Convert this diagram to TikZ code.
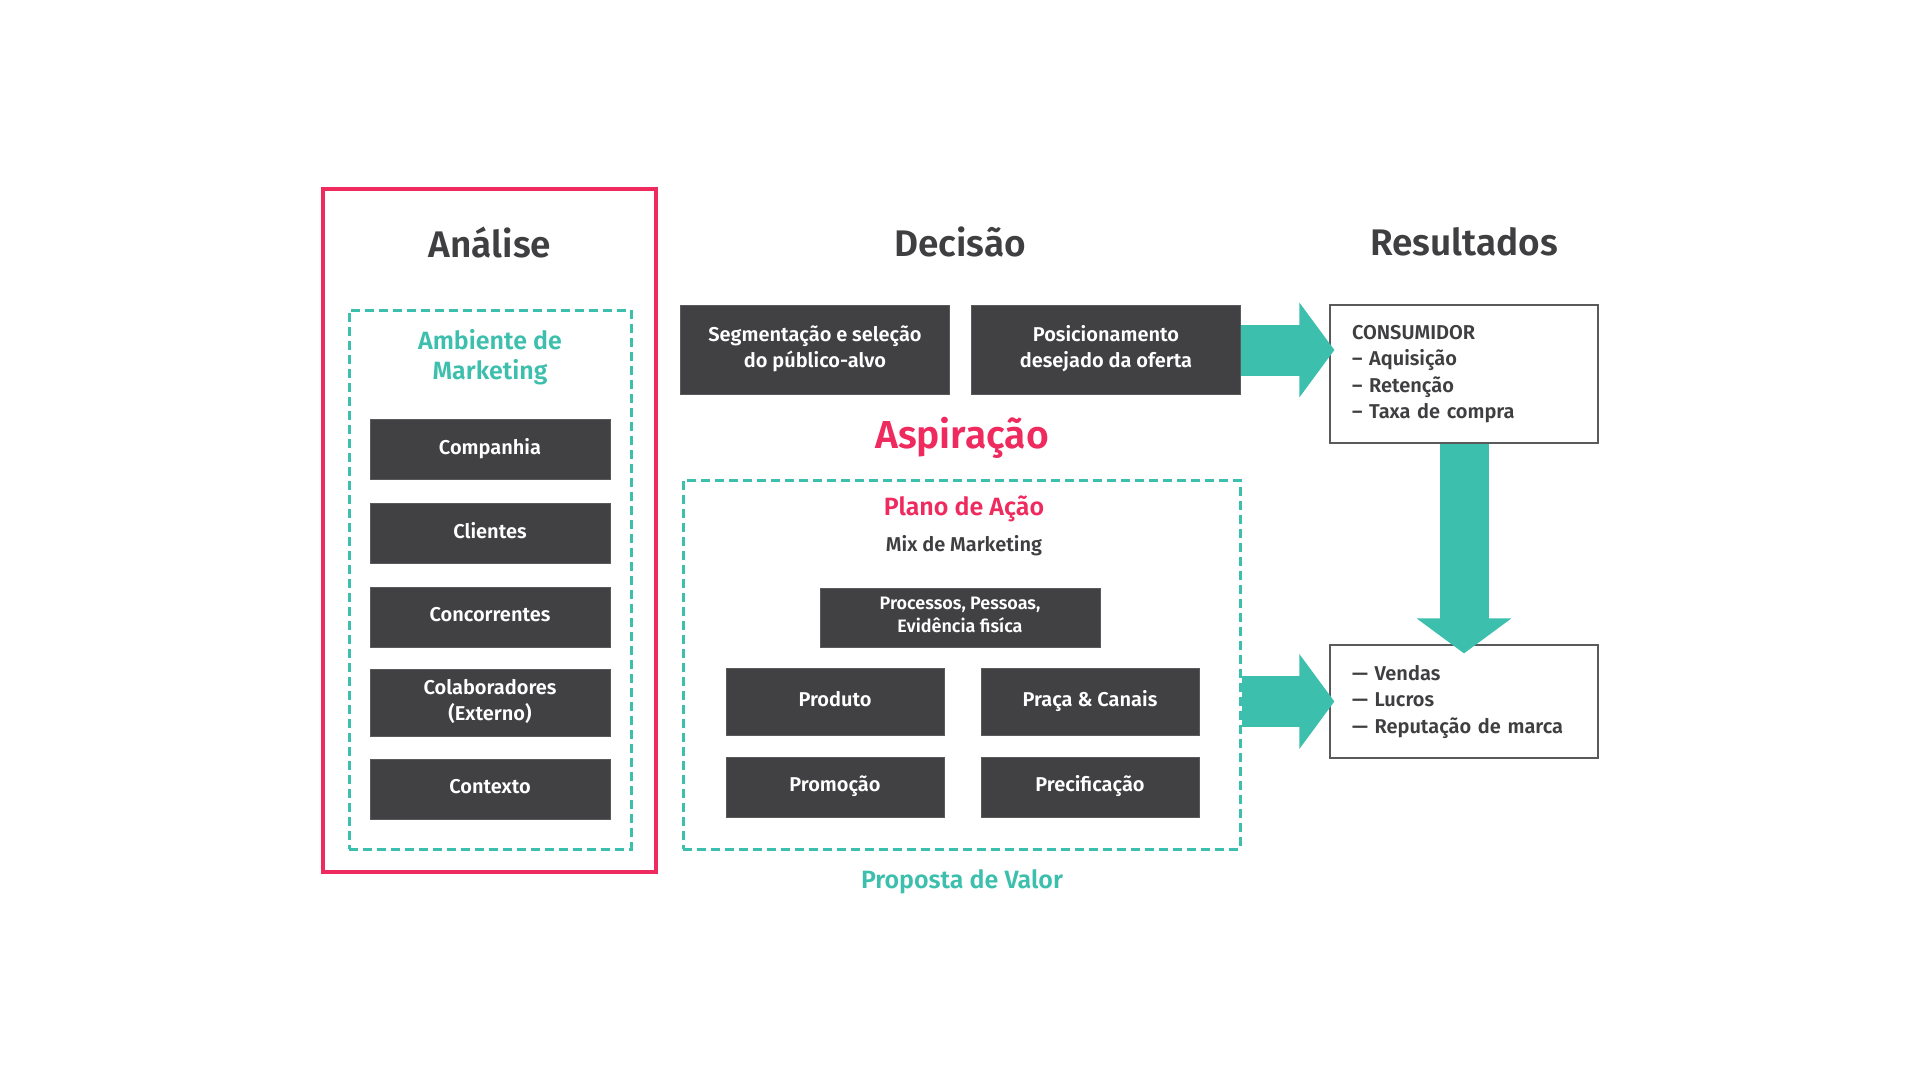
\documentclass[tikz,border=0pt]{standalone}
\usepackage{fontspec}
\setmainfont{Fira Sans}[BoldFont={Fira Sans SemiBold}]
\usepackage{tikz}
\usetikzlibrary{
  arrows.meta,
  positioning,
  calc
}
\definecolor{mkDark}{HTML}{414042}
\definecolor{mkGray}{HTML}{3F3F41}
\definecolor{mkTeal}{HTML}{3DBFAD}
\definecolor{mkPink}{HTML}{EE2A5E}
\definecolor{mkLine}{HTML}{5A5A5C}
\tikzset{
  mkbox/.style={
    draw=mkLine, line width=1pt, fill=mkDark, text=white, align=center,
    inner sep=2pt, text depth=7pt, font=\fontsize{20}{26}\selectfont\bfseries
  },
  colbox/.style={mkbox, minimum width=240pt, minimum height=60pt},
  mixbox/.style={mkbox, minimum width=218pt, minimum height=67pt},
  coltitle/.style={font=\fontsize{37}{40}\selectfont\bfseries, text=mkGray},
  subtitle/.style={font=\fontsize{25}{30}\selectfont\bfseries, align=center},
  zone/.style={
    draw=mkTeal, line width=3pt, dash pattern=on 9pt off 5pt
  },
  redzone/.style={draw=mkPink, line width=4pt},
  resbox/.style={
    draw=mkLine, line width=1.2pt, fill=white, align=left, text=mkGray,
    text width=224pt, inner xsep=22pt, minimum width=268pt,
    font=\fontsize{20}{26.5}\selectfont\bfseries
  },
  bigarrow/.style={
    draw=mkTeal, line width=51pt, -{Triangle[length=35pt, width=93pt]}
  }
}

\begin{document}
\begin{tikzpicture}[x=1pt, y=-1pt, node distance=23pt]
  \useasboundingbox (0,0) rectangle (1920,1081);

  % Analise
  \node[redzone, minimum width=333pt, minimum height=683pt] (analisezone) at (489.5,530.5) {};
  \node[coltitle] (analise) at (490,242) {Análise};
  \node[zone, minimum width=282pt, minimum height=539pt] (ambiente) at (490,579.5) {};
  \node[subtitle, text=mkTeal] (ambtitle) at (490,357) {Ambiente de\\Marketing};
  \node[colbox, anchor=north] (companhia) at (490,419) {Companhia};
  \node[colbox, below=of companhia] (clientes) {Clientes};
  \node[colbox, below=of clientes] (concorrentes) {Concorrentes};
  \node[colbox, minimum height=67pt, below=21pt of concorrentes] (colab) {Colaboradores\\(Externo)};
  \node[colbox, below=22pt of colab] (contexto) {Contexto};

  % Decisao
  \node[coltitle] (decisao) at (960,242) {Decisão};
  \node[mkbox, minimum width=269pt, minimum height=89pt] (segment) at (815,350) {Segmentação e seleção\\do público-alvo};
  \node[mkbox, minimum width=269pt, minimum height=89pt, right=21pt of segment] (posic) {Posicionamento\\desejado da oferta};
  \node[coltitle, text=mkPink, font=\fontsize{39}{42}\selectfont\bfseries] (aspiracao) at (962,438) {Aspiração};
  \node[zone, minimum width=557pt, minimum height=369pt] (acao) at (961.5,664.5) {};
  \node[subtitle, text=mkPink] (plano) at (964,509) {Plano de Ação};
  \node[font=\fontsize{20}{24}\selectfont\bfseries, text=mkGray] (mix) at (964,546) {Mix de Marketing};
  \node[mkbox, minimum width=280pt, minimum height=59pt, font=\fontsize{18}{23}\selectfont\bfseries] (processos) at (960,618) {Processos, Pessoas,\\Evidência fisíca};
  \node[mixbox] (produto) at (835,702) {Produto};
  \node[mixbox, right=36pt of produto] (praca) {Praça \& Canais};
  \node[mixbox, minimum height=60pt] (promocao) at (835,787) {Promoção};
  \node[mixbox, minimum height=60pt, right=36pt of promocao] (precif) {Precificação};
  \node[subtitle, text=mkTeal] (proposta) at (962,882) {Proposta de Valor};

  % Resultados
  \node[coltitle] (resultados) at (1464,242) {Resultados};
  \node[resbox, minimum height=138pt] (consumidor) at (1464,374) {CONSUMIDOR\\– Aquisição\\– Retenção\\– Taxa de compra};
  \node[resbox, minimum height=113pt] (vendas) at (1464,701.5) {— Vendas\\— Lucros\\— Reputação de marca};

  \draw[bigarrow, shorten >=-5pt] (posic.east) -- (posic.east -| consumidor.west);
  \draw[bigarrow, shorten >=-5pt] (acao.east |- vendas.west) -- (vendas.west);
  \draw[bigarrow, line width=49pt, shorten >=-9pt] (consumidor.south) -- (vendas.north);
\end{tikzpicture}
\end{document}
